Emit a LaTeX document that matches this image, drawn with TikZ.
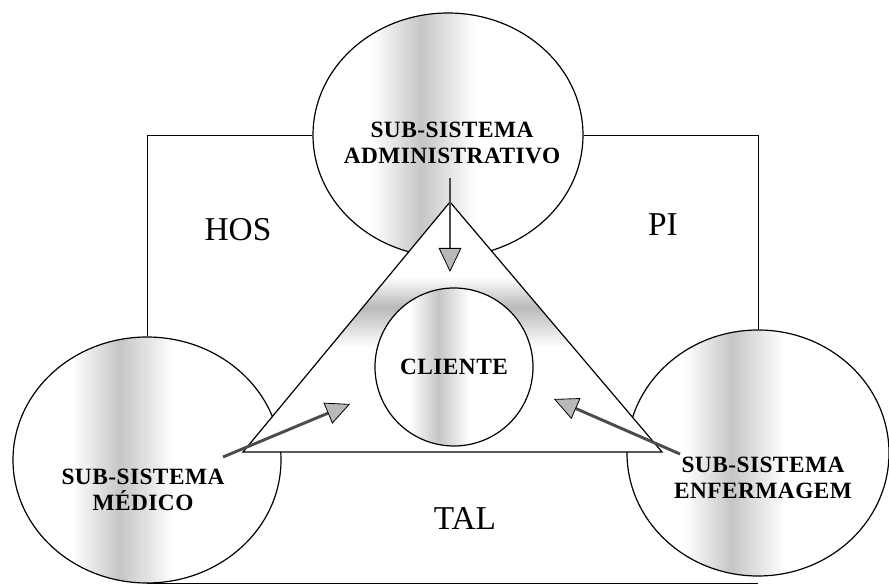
\documentclass[tikz,border=0pt]{standalone}
\usepackage{fontspec}
\setmainfont{Liberation Serif}
\newfontfamily\lblfont[LetterSpace=2]{Liberation Serif}
\usetikzlibrary{shapes.geometric,arrows.meta}
\pgfdeclarehorizontalshading{band}{100bp}{color(0bp)=(white); color(36bp)=(white); color(45bp)=(gray!45); color(55bp)=(white); color(100bp)=(white)}
\pgfdeclareverticalshading{triband}{100bp}{color(0bp)=(white); color(46bp)=(white); color(54bp)=(gray!55); color(60bp)=(white); color(100bp)=(white)}
\tikzset{
  sub/.style={ellipse,draw,line width=0.9pt,shade,shading=band,inner sep=0pt},
  lbl/.style={font=\lblfont\fontsize{17.5}{19}\selectfont\bfseries,align=center},
  big/.style={font=\fontsize{25}{30}\selectfont},
  seta/.style={line width=2.2pt,draw=gray!60!black,-{Triangle[length=18pt,width=17pt,line width=0.6pt,color=black,fill=gray!55]}}
}

\begin{document}
\begin{tikzpicture}[x=0.75pt,y=-0.75pt]
  \useasboundingbox (0,0) rectangle (889,584);
  \node[sub,minimum width=202.5pt,minimum height=183pt] (adm) at (448,135) {};
  \node[sub,minimum width=201pt,minimum height=184.5pt] (med) at (147,460) {};
  \node[sub,minimum width=196.5pt,minimum height=184.5pt] (enf) at (758,453) {};
  \draw[line width=0.6pt] (adm.west) -| (med.north);
  \draw[line width=0.6pt] (adm.east) -| (enf.north);
  \draw[line width=0.6pt] (med.south) -- (med.south -| enf.south);
  \coordinate (t1) at (450,202);
  \coordinate (t2) at (243,452);
  \coordinate (t3) at (662,452);
  \draw[line width=0.9pt,shade,shading=triband] (t1) -- (t2) -- (t3) -- cycle;
  \node[circle,draw,line width=0.9pt,shade,shading=band,minimum size=118.5pt,inner sep=0pt,lbl] (cli) at (454,367) {CLIENTE};
  \coordinate (a1) at (450,178);
  \coordinate (a2) at (450,272);
  \coordinate (m1) at (223,457);
  \coordinate (m2) at (350,404);
  \coordinate (e1) at (680,454);
  \coordinate (e2) at (554,399);
  \draw[seta] (a1) -- (a2);
  \draw[seta] (m1) -- (m2);
  \draw[seta] (e1) -- (e2);
  \node[lbl] (admt) at (452,143) {SUB-SISTEMA\\ADMINISTRATIVO};
  \node[lbl] (medt) at (143,490) {SUB-SISTEMA\\MÉDICO};
  \node[lbl] (enft) at (763,478) {SUB-SISTEMA\\ENFERMAGEM};
  \node[big] (hos) at (238,230) {HOS};
  \node[big] (pi) at (663,225) {PI};
  \node[big] (tal) at (465,518) {TAL};
\end{tikzpicture}
\end{document}
